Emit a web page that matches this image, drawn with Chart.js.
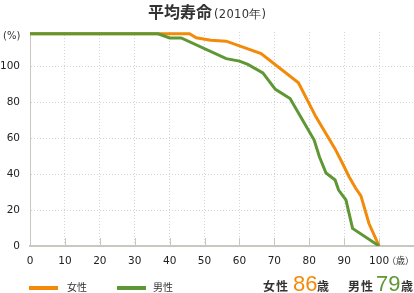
<!DOCTYPE html>
<html lang="ja">
<head>
<meta charset="utf-8">
<script src="https://cdn.jsdelivr.net/npm/chart.js@4/dist/chart.umd.min.js"></script>
<style>
  html, body { margin: 0; padding: 0; background: #fff; }
  #wrap { position: relative; width: 414px; height: 293px; overflow: hidden;
          font-family: "Noto Sans CJK JP", sans-serif; color: #333; }
  #wrap canvas { position: absolute; left: 0; top: 0; }
  .txt { position: absolute; white-space: nowrap; line-height: 1; }
  .title { left: 148px; top: 3px; font-size: 16px; font-weight: bold; color: #333; }
  .title small { font-size: 11.5px; font-weight: normal; margin-left: 2px;
                 font-family: "DejaVu Sans", sans-serif; letter-spacing: 0.3px; }
  .unit { font-family: "DejaVu Sans", sans-serif; font-size: 10px; color: #333; }
  .unit-jp { font-size: 9px; color: #333; }
  .leg-line { position: absolute; height: 4px; width: 29px; top: 286px; }
  .leg { font-size: 10px; top: 282px; }
  .sum { font-size: 12px; font-weight: bold; top: 280px; letter-spacing: 1px; }
  .big { font-family: "Liberation Sans", Arial, sans-serif; font-size: 22px; top: 273px; }
</style>
</head>
<body>
<div id="wrap">
  <canvas id="lifeChart" width="414" height="293"></canvas>
  <div class="txt title">平均寿命<small>(2010年)</small></div>
  <div class="txt unit" style="left:3px; top:31px;">(%)</div>
  <div class="txt unit-jp" style="left:387px; top:256px;">（歳）</div>

  <div class="leg-line" style="left:29px; background:#f28a0a;"></div>
  <div class="txt leg" style="left:67px;">女性</div>
  <div class="leg-line" style="left:117px; background:#5f9734;"></div>
  <div class="txt leg" style="left:153px;">男性</div>

  <div class="txt sum" style="left:263px;">女性</div>
  <div class="txt big" style="left:293px; color:#f28a0a;">86</div>
  <div class="txt sum" style="left:317px;">歳</div>
  <div class="txt sum" style="left:348px;">男性</div>
  <div class="txt big" style="left:376px; color:#5f9734;">79</div>
  <div class="txt sum" style="left:401px;">歳</div>
</div>
<script>
// survival curves (age, %)
const femaleAge  = [0, 45.7, 47.6, 51.8, 56.2, 66.2, 76.9, 81.9, 87.4, 89.5, 91.4, 93.3, 94.8, 97.1, 100];
const femaleRate = [118, 118, 115.8, 114.4, 113.9, 107, 90.8, 71.8, 54, 46, 38.5, 32.1, 27.9, 12.5, 0];

const maleAge  = [0, 36.7, 40, 43.3, 56.2, 60, 62.4, 66.7, 70.3, 74.5, 81.4, 82.9, 84.8, 87.4, 88.4, 90.5, 92.4, 100];
const maleRate = [118, 118, 115.7, 115.7, 104.2, 102.8, 101, 96.3, 87.1, 82, 58.9, 49.6, 40.6, 36.7, 31.1, 25.6, 9.8, 0];

const xTicks = [0, 10, 20, 30, 40, 50, 60, 70, 80, 90, 100];
const yTicks = [0, 20, 40, 60, 80, 100];

const ORANGE = '#f28a0a';
const GREEN  = '#5f9734';
const AXIS   = '#c8c8c0';
const GRID   = '#d4d4d4';

const toPoints = (xs, ys) => xs.map((x, i) => ({ x, y: ys[i] }));

// short solid ticks pointing up into the plot from the x axis
const innerTicks = {
  id: 'innerTicks',
  beforeDatasetsDraw(chart) {
    const { ctx, scales: { x }, chartArea } = chart;
    ctx.save();
    ctx.strokeStyle = AXIS;
    ctx.lineWidth = 1;
    xTicks.forEach(v => {
      if (v === 0) return;
      const px = Math.round(x.getPixelForValue(v)) + 0.5;
      ctx.beginPath();
      ctx.moveTo(px, chartArea.bottom);
      ctx.lineTo(px, chartArea.bottom - 8);
      ctx.stroke();
    });
    ctx.restore();
  }
};

new Chart(document.getElementById('lifeChart').getContext('2d'), {
  type: 'line',
  data: {
    datasets: [
      {
        label: '男性',
        data: toPoints(maleAge, maleRate),
        borderColor: GREEN,
        borderWidth: 3,
        pointRadius: 0,
        tension: 0,
        fill: false,
      },
      {
        label: '女性',
        data: toPoints(femaleAge, femaleRate),
        borderColor: ORANGE,
        borderWidth: 3,
        pointRadius: 0,
        tension: 0,
        fill: false,
      },
    ],
  },
  options: {
    responsive: false,
    animation: false,
    devicePixelRatio: 1,
    layout: { padding: { top: 32, right: 0, bottom: 0, left: 0 } },
    plugins: { legend: { display: false }, tooltip: { enabled: false } },
    scales: {
      x: {
        type: 'linear',
        min: 0,
        max: 110,
        afterFit: s => { s.height = 47; },
        afterBuildTicks: s => { s.ticks = xTicks.map(v => ({ value: v })); },
        ticks: {
          padding: 9,
          color: '#222',
          font: { family: 'DejaVu Sans', size: 10.5 },
          maxRotation: 0,
          autoSkip: false,
        },
        grid: {
          drawTicks: false,
          color: c => (c.tick && c.tick.value === 0) ? 'rgba(0,0,0,0)' : GRID,
          lineWidth: 1,
        },
        border: { color: AXIS, width: 2, dash: [1, 2] },
      },
      y: {
        min: 0,
        max: 119,
        afterFit: s => { s.width = 30; },
        afterBuildTicks: s => { s.ticks = yTicks.map(v => ({ value: v })); },
        ticks: {
          padding: 10,
          color: '#222',
          font: { family: 'DejaVu Sans', size: 10.5 },
        },
        grid: {
          drawTicks: false,
          color: c => (c.tick && c.tick.value === 0) ? 'rgba(0,0,0,0)' : GRID,
          lineWidth: 1,
        },
        border: { color: AXIS, width: 1, dash: [1, 2] },
      },
    },
  },
  plugins: [innerTicks],
});
</script>
</body>
</html>
